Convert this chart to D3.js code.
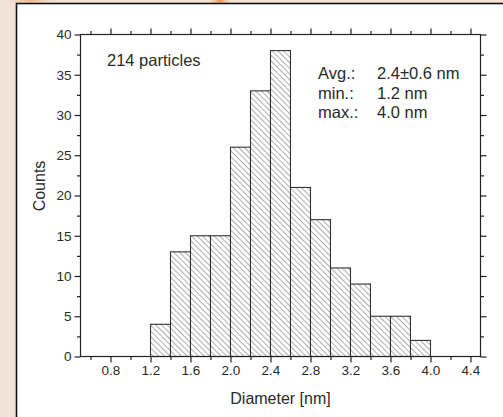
<!DOCTYPE html>
<html>
<head>
<meta charset="utf-8">
<title>Particle size histogram</title>
<script src="https://cdn.jsdelivr.net/npm/d3@7"></script>
<style>
  body { margin: 0; background: #f3e2d6; }
  svg { display: block; }
  text { font-family: "Liberation Sans", Arial, sans-serif; fill: #2a2a2a; }
</style>
</head>
<body>
<svg id="chart" width="503" height="417"></svg>
<script>
// histogram bins (left edge, nm) and counts
var binStarts = [1.2, 1.4, 1.6, 1.8, 2.0, 2.2, 2.4, 2.6, 2.8, 3.0, 3.2, 3.4, 3.6, 3.8];
var counts = [4, 13, 15, 15, 26, 33, 38, 21, 17, 11, 9, 5, 5, 2];
var binWidth = 0.2;

var xMajorTicks = [0.8, 1.2, 1.6, 2.0, 2.4, 2.8, 3.2, 3.6, 4.0, 4.4];
var xMinorTicks = [0.6, 1.0, 1.4, 1.8, 2.2, 2.6, 3.0, 3.4, 3.8, 4.2];
var yMajorTicks = [0, 5, 10, 15, 20, 25, 30, 35, 40];
var yMinorTicks = [2.5, 7.5, 12.5, 17.5, 22.5, 27.5, 32.5, 37.5];

var statLabels = ["Avg.:", "min.:", "max.:"];
var statValues = ["2.4\u00b10.6 nm", "1.2 nm", "4.0 nm"];

var svg = d3.select("#chart");

// backdrop glow + white panel
var defs = svg.append("defs");
var glow = defs.append("radialGradient").attr("id", "glow");
glow.append("stop").attr("offset", "0%").attr("stop-color", "#f08a3a");
glow.append("stop").attr("offset", "100%").attr("stop-color", "#f3e2d6").attr("stop-opacity", 0);
svg.append("ellipse").attr("cx", 220).attr("cy", 0).attr("rx", 14).attr("ry", 8).attr("fill", "url(#glow)");
svg.append("ellipse").attr("cx", 30).attr("cy", 0).attr("rx", 30).attr("ry", 6).attr("fill", "url(#glow)").attr("opacity", 0.6);

svg.append("rect")
  .attr("x", 16.5).attr("y", 3.5).attr("width", 500).attr("height", 420)
  .attr("fill", "#fff").attr("stroke", "#111").attr("stroke-width", 1.6);

var hatch = defs.append("pattern")
  .attr("id", "hatch")
  .attr("patternUnits", "userSpaceOnUse")
  .attr("width", 4).attr("height", 4)
  .attr("patternTransform", "rotate(-45)");
hatch.append("rect").attr("width", 4).attr("height", 4).attr("fill", "#fff");
hatch.append("line").attr("x1", 0).attr("y1", 0).attr("x2", 0).attr("y2", 4)
  .attr("stroke", "#6a6a6a").attr("stroke-width", 1.1);

var plotLeft = 80.5, plotRight = 480.5, plotTop = 34.5, plotBottom = 356.5;
var x = d3.scaleLinear().domain([0.5, 4.5]).range([plotLeft, plotRight]);
var y = d3.scaleLinear().domain([0, 40]).range([plotBottom, plotTop]);

// bars
svg.append("g").selectAll("rect")
  .data(binStarts)
  .enter().append("rect")
  .attr("x", function(d) { return x(d); })
  .attr("y", function(d, i) { return y(counts[i]); })
  .attr("width", function(d) { return x(d + binWidth) - x(d); })
  .attr("height", function(d, i) { return y(0) - y(counts[i]); })
  .attr("fill", "url(#hatch)")
  .attr("stroke", "#333")
  .attr("stroke-width", 1.1);

function styleAxis(g) {
  g.select(".domain").remove();
  g.selectAll("line").attr("stroke", "#222").attr("stroke-width", 1.2);
  g.selectAll("text").attr("font-size", 13.5).attr("fill", "#383838")
    .style("font-family", "'Liberation Sans', Arial, sans-serif");
}

// major and minor ticks on all four sides
svg.append("g").attr("transform", "translate(0," + plotBottom + ")")
  .call(d3.axisBottom(x).tickValues(xMajorTicks).tickSize(6).tickPadding(3).tickFormat(d3.format(".1f")))
  .call(styleAxis);
svg.append("g").attr("transform", "translate(0," + plotBottom + ")")
  .call(d3.axisBottom(x).tickValues(xMinorTicks).tickSize(3.5).tickFormat(""))
  .call(styleAxis);
svg.append("g").attr("transform", "translate(0," + plotTop + ")")
  .call(d3.axisTop(x).tickValues(xMajorTicks).tickSize(6).tickFormat(""))
  .call(styleAxis);
svg.append("g").attr("transform", "translate(0," + plotTop + ")")
  .call(d3.axisTop(x).tickValues(xMinorTicks).tickSize(3.5).tickFormat(""))
  .call(styleAxis);

svg.append("g").attr("transform", "translate(" + plotLeft + ",0)")
  .call(d3.axisLeft(y).tickValues(yMajorTicks).tickSize(6).tickPadding(3))
  .call(styleAxis);
svg.append("g").attr("transform", "translate(" + plotLeft + ",0)")
  .call(d3.axisLeft(y).tickValues(yMinorTicks).tickSize(3.5).tickFormat(""))
  .call(styleAxis);
svg.append("g").attr("transform", "translate(" + plotRight + ",0)")
  .call(d3.axisRight(y).tickValues(yMajorTicks).tickSize(6).tickFormat(""))
  .call(styleAxis);
svg.append("g").attr("transform", "translate(" + plotRight + ",0)")
  .call(d3.axisRight(y).tickValues(yMinorTicks).tickSize(3.5).tickFormat(""))
  .call(styleAxis);

// frame
svg.append("rect")
  .attr("x", plotLeft).attr("y", plotTop).attr("width", plotRight - plotLeft).attr("height", plotBottom - plotTop)
  .attr("fill", "none").attr("stroke", "#222").attr("stroke-width", 1.2);

// axis titles
svg.append("text")
  .attr("x", (plotLeft + plotRight) / 2).attr("y", 404)
  .attr("text-anchor", "middle").attr("font-size", 16)
  .text("Diameter [nm]");
svg.append("text")
  .attr("transform", "translate(45,186) rotate(-90)")
  .attr("text-anchor", "middle").attr("font-size", 16)
  .text("Counts");

// annotations
svg.append("text").attr("x", 107).attr("y", 66).attr("font-size", 16.5).text("214 particles");
var stats = svg.append("g");
stats.selectAll("text.lab").data(statLabels).enter().append("text")
  .attr("class", "lab")
  .attr("x", 318).attr("y", function(d, i) { return 79 + i * 19.5; })
  .attr("font-size", 16.5).text(function(d) { return d; });
stats.selectAll("text.val").data(statValues).enter().append("text")
  .attr("class", "val")
  .attr("x", 377).attr("y", function(d, i) { return 79 + i * 19.5; })
  .attr("font-size", 16.5).text(function(d) { return d; });
</script>
</body>
</html>
